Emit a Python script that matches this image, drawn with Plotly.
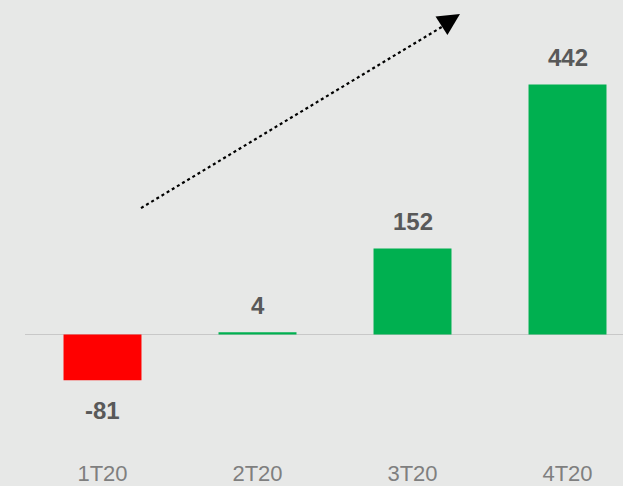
import plotly.graph_objects as go

categories = ["1T20", "2T20", "3T20", "4T20"]
values = [-81, 4, 152, 442]
labels = ["-81", "4", "152", "442"]

colors = ["#FF0000" if v < 0 else "#00B050" for v in values]

fig = go.Figure()
fig.add_trace(go.Bar(x=categories, y=values, marker=dict(color=colors, line=dict(width=0)),
                     hoverinfo="skip"))

for c, v, t in zip(categories, values, labels):
    fig.add_annotation(x=c, y=v, text="<b>" + t + "</b>", showarrow=False, xref="x", yref="y",
                       yanchor="middle", yshift=27 if v >= 0 else -30,
                       font=dict(family="Liberation Sans, Arial", size=24, color="#595959"),
                       )

# dotted trend arrow
x0, y0, x1, y1 = 0.194, 0.5457, 0.7274, 0.9696
fig.add_shape(type="line", xref="paper", yref="paper", x0=x0, y0=y0, x1=x1 - 0.012, y1=y1 - 0.014,
              line=dict(color="black", width=2.2, dash="dot"))
fig.add_annotation(xref="paper", yref="paper", x=x1, y=y1, ax=-14, ay=9,
                   axref="pixel", ayref="pixel", text="", showarrow=True,
                   arrowhead=2, arrowsize=2.2, arrowwidth=2, arrowcolor="black")

fig.update_layout(
    width=623, height=486,
    margin=dict(l=25, r=0, t=0, b=24),
    paper_bgcolor="#E7E8E7", plot_bgcolor="#E7E8E7",
    bargap=0.497,
    showlegend=False,
    font=dict(family="Liberation Sans, Arial"),
)
fig.update_xaxes(range=[-0.5, 3.358], showgrid=False, showline=False, ticks="",
                 tickfont=dict(size=22, color="#7F7F7F"))
fig.update_yaxes(range=[-218.5, 591.5], showgrid=False, showticklabels=False,
                 zeroline=True, zerolinecolor="#C8C8C8", zerolinewidth=1.5)

fig.write_html("out.html", config={"staticPlot": True},
               post_script="document.body.style.margin='0';document.body.style.overflow='hidden';")
